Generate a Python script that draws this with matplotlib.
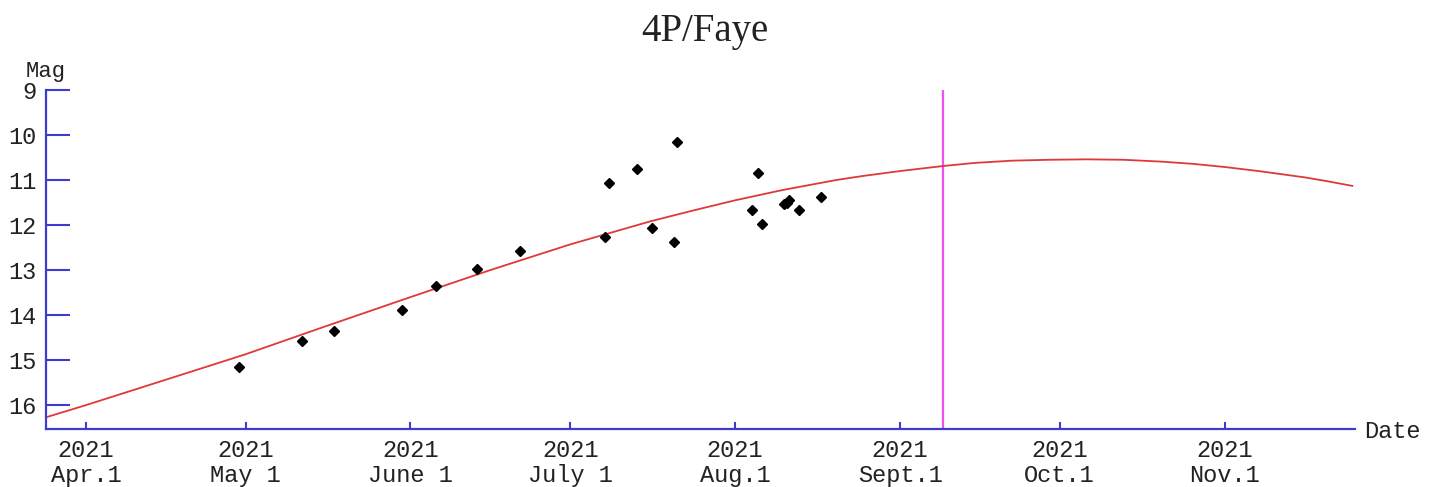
import numpy as np
import pandas as pd
import matplotlib
matplotlib.use("Agg")
import matplotlib.pyplot as plt

# predicted light curve
curve_dates = ["2021-03-24 12:00", "2021-04-01", "2021-04-22", "2021-05-01", "2021-05-16",
               "2021-06-01", "2021-06-16", "2021-07-01", "2021-07-16", "2021-07-24",
               "2021-08-01", "2021-08-10", "2021-08-20", "2021-08-25", "2021-09-01",
               "2021-09-09", "2021-09-15", "2021-09-22", "2021-09-29", "2021-10-06",
               "2021-10-13", "2021-10-20", "2021-10-26", "2021-11-01", "2021-11-08",
               "2021-11-16", "2021-11-20", "2021-11-25"]
curve_mag = [16.27, 16.00, 15.21, 14.87, 14.25,
             13.60, 13.00, 12.43, 11.92, 11.68,
             11.45, 11.22, 11.00, 10.91, 10.80,
             10.69, 10.62, 10.57, 10.55, 10.54,
             10.55, 10.59, 10.64, 10.71, 10.81,
             10.94, 11.02, 11.13]

# observations
obs_dates = ["2021-04-29 19:00", "2021-05-11 14:00", "2021-05-17 14:00", "2021-05-30 10:00",
             "2021-06-05 19:00", "2021-06-13 12:00", "2021-06-21 14:00", "2021-07-07 14:00",
             "2021-07-08 07:00", "2021-07-13 14:00", "2021-07-16 10:00", "2021-07-20 12:00",
             "2021-07-21 02:00", "2021-08-04 05:00", "2021-08-05 07:00", "2021-08-06 02:00",
             "2021-08-10 05:00", "2021-08-10 19:00", "2021-08-11 02:00", "2021-08-13 00:00",
             "2021-08-17 05:00"]
obs_mag = [15.16, 14.58, 14.36, 13.89,
           13.36, 12.98, 12.58, 12.27,
           11.07, 10.76, 12.07, 12.38,
           10.16, 11.67, 10.84, 11.98,
           11.53, 11.51, 11.44, 11.67,
           11.38]

today = "2021-09-09"
tick_dates = ["2021-04-01", "2021-05-01", "2021-06-01", "2021-07-01",
              "2021-08-01", "2021-09-01", "2021-10-01", "2021-11-01"]
tick_labels = ["2021\nApr.1", "2021\nMay 1", "2021\nJune 1", "2021\nJuly 1",
               "2021\nAug.1", "2021\nSept.1", "2021\nOct.1", "2021\nNov.1"]
mag_ticks = [9, 10, 11, 12, 13, 14, 15, 16]

axis_blue = "#3c3cd2"
mono = "Liberation Mono"
txt = "#222222"

def to_dt(vals):
    return pd.to_datetime(vals, format="mixed")

fig = plt.figure(figsize=(14.45, 4.87), dpi=100)
ax = fig.add_axes([46 / 1445, 1 - 429 / 487, (1355 - 46) / 1445, (429 - 90) / 487])

ax.plot(to_dt(curve_dates), curve_mag, color="#e03838", lw=1.3, zorder=2)
ax.plot(to_dt(obs_dates), obs_mag, "D", color="black", ms=5, zorder=3)
ax.axvline(pd.Timestamp(today), color="#f050f0", lw=1.6, zorder=1)

ax.set_xlim(pd.Timestamp("2021-03-24 12:00"), pd.Timestamp("2021-11-25 12:00"))
ax.set_ylim(16.53, 9)

ax.set_xticks(to_dt(tick_dates))
ax.set_xticklabels(tick_labels, fontfamily=mono, fontsize=17, color=txt,
                   linespacing=1.1)
ax.set_yticks(mag_ticks)
ax.set_yticklabels([str(m) for m in mag_ticks], fontfamily=mono, fontsize=17, color=txt)

ax.tick_params(axis="y", direction="in", length=17.5, width=1.5, color=axis_blue, pad=7)
ax.tick_params(axis="x", direction="in", length=5, width=1.5, color=axis_blue, pad=7)

for side in ["top", "right"]:
    ax.spines[side].set_visible(False)
for side in ["left", "bottom"]:
    ax.spines[side].set_color(axis_blue)
    ax.spines[side].set_linewidth(1.6)

fig.text(705 / 1445, 1 - 31 / 487, "4P/Faye", family="Liberation Serif", fontsize=28,
         ha="center", va="center", color=txt)
fig.text(46 / 1445, 1 - 71 / 487, "Mag", family=mono, fontsize=16,
         ha="center", va="center", color=txt)
fig.text(1364 / 1445, 1 - 431 / 487, "Date", family=mono, fontsize=17,
         ha="left", va="center", color=txt)

fig.savefig("out.png", dpi=100)
